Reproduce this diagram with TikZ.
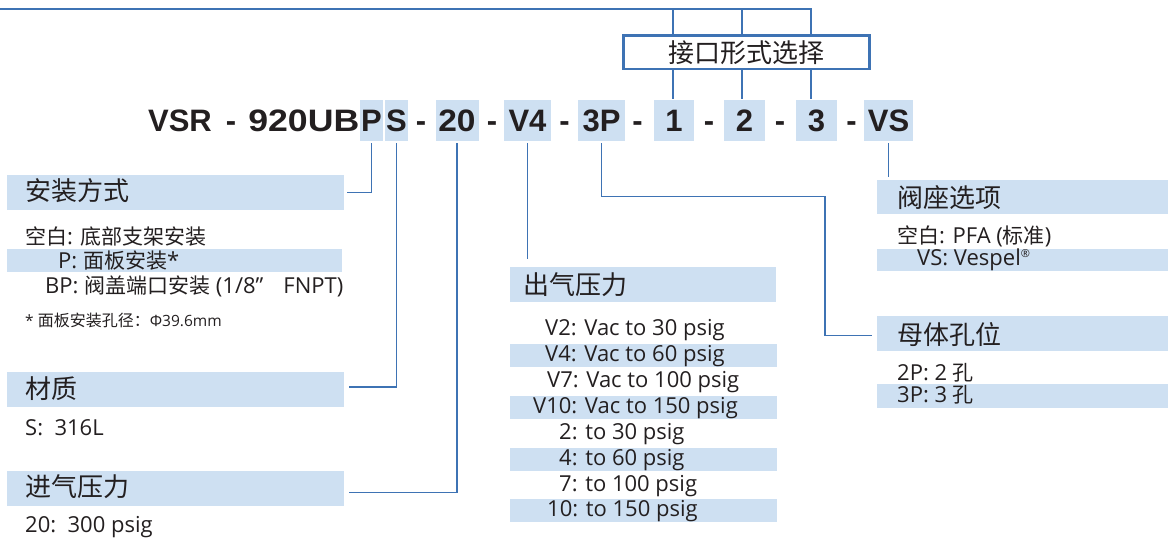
\documentclass[tikz,border=0pt]{standalone}
\usepackage{fontspec}
\setmainfont{Open Sans}
\newfontfamily\cjkf{Noto Sans CJK SC}
\newfontfamily\codef{Liberation Sans}
\definecolor{hl}{HTML}{CEE0F2}
\definecolor{ln}{HTML}{3E73B4}
\definecolor{tx}{HTML}{231F20}
\newcommand\zh[1]{{\cjkf\fontsize{21}{24}\selectfont #1}}
\newcommand\zhs[1]{{\cjkf\fontsize{16}{19}\selectfont #1}}
\begin{document}
\begin{tikzpicture}[x=1pt,y=-1pt,
 band/.style={fill=hl,draw=none,inner sep=0pt,outer sep=0pt,anchor=north west},
 hdr/.style={anchor=base west,inner sep=0pt,text=tx,font=\cjkf\fontsize{26}{30}\selectfont},
 body/.style={anchor=base west,inner sep=0pt,text=tx,font=\fontsize{22}{26}\selectfont},
 cbox/.style={fill=hl,inner sep=0pt,outer sep=0pt,minimum height=40.7pt,text=tx,font=\codef\bfseries\fontsize{31}{34}\selectfont,text height=22.2pt,text depth=0pt},
 ctxt/.style={inner sep=0pt,text=tx,font=\codef\bfseries\fontsize{31}{34}\selectfont,text height=22.2pt,text depth=0pt},
 conn/.style={draw=ln,line width=1.4pt},
]
\useasboundingbox (0,0) rectangle (1168,538);

% code line
\node[ctxt] (vsr) at (180,120.4) {VSR};
\node[ctxt] (d0) at (231,120.4) {-};
\node[ctxt,anchor=east] (num) at (359.5,120.4) {\scalebox{1.15}[1]{920UB}};
\node[cbox,minimum width=23pt] (cP) at (371.5,120.4) {P};
\node[cbox,minimum width=23pt] (cS) at (396.5,120.4) {S};
\node[ctxt] (d1) at (421,120.4) {-};
\node[cbox,minimum width=43pt] (c20) at (457,120.4) {\scalebox{1.08}[1]{20}};
\node[ctxt] (d2) at (492,120.4) {-};
\node[cbox,minimum width=47pt] (cV4) at (527.5,120.4) {V4};
\node[ctxt] (d3) at (564.5,120.4) {-};
\node[cbox,minimum width=47pt] (c3P) at (601.5,120.4) {3P};
\node[ctxt] (d4) at (637.5,120.4) {-};
\node[cbox,minimum width=40.5pt] (c1) at (674,120.4) {1};
\node[ctxt] (d5) at (709,120.4) {-};
\node[cbox,minimum width=41pt] (c2) at (744.5,120.4) {2};
\node[ctxt] (d6) at (780,120.4) {-};
\node[cbox,minimum width=41pt] (c3) at (816.5,120.4) {3};
\node[ctxt] (d7) at (851.5,120.4) {-};
\node[cbox,minimum width=49pt] (cVS) at (888.5,120.4) {VS};

% port selection box
\node[draw=ln,line width=2.6pt,inner sep=0pt,minimum width=246.4pt,minimum height=33.4pt,text=tx,font=\cjkf\fontsize{26}{30}\selectfont] (port) at (746.5,52.3) {接口形式选择};
\coordinate (t0) at (0,9);
\coordinate (t1) at (673,9);
\coordinate (t2) at (742,9);
\coordinate (t3) at (811,9);
\draw[conn,line width=1.6pt] (t0) -- (t3) -- (t3 |- port.north);
\draw[conn] (t1) -- (t1 |- port.north);
\draw[conn] (t2) -- (t2 |- port.north);
\draw[conn] (t1 |- port.south) -- ([yshift=1.5pt]t1 |- c1.north);
\draw[conn] (t2 |- port.south) -- ([yshift=1.5pt]t2 |- c2.north);
\draw[conn] (t3 |- port.south) -- ([yshift=1.5pt]t3 |- c3.north);

% headers
\node[band,minimum width=337pt,minimum height=35pt] (h1) at (7,175) {};
\node[hdr] (h1t) at (25,200) {安装方式};
\node[band,minimum width=337pt,minimum height=35pt] (h2) at (7,372) {};
\node[hdr] (h2t) at (25,398) {材质};
\node[band,minimum width=337pt,minimum height=35pt] (h3) at (7,471) {};
\node[hdr] (h3t) at (25,496.5) {进气压力};
\node[band,minimum width=266pt,minimum height=35pt] (h4) at (510,267) {};
\node[hdr] (h4t) at (523,294.5) {出气压力};
\node[band,minimum width=291pt,minimum height=34pt] (h5) at (877,180) {};
\node[hdr] (h5t) at (897,207.5) {阀座选项};
\node[band,minimum width=291pt,minimum height=35pt] (h6) at (877,316) {};
\node[hdr] (h6t) at (897,344.5) {母体孔位};

% connectors
\draw[conn] ([yshift=-2.5pt]cP.south) |- ([xshift=3pt]h1.east);
\draw[conn] ([yshift=-2.5pt]cS.south) |- ([xshift=5pt,yshift=2.5pt]h2.east);
\draw[conn] ([yshift=-2.5pt]c20.south) |- ([xshift=5pt,yshift=-4pt]h3.east);
\draw[conn] ([yshift=-2.5pt]cV4.south) -- ([yshift=8pt]cV4.south |- h4.north);
\coordinate (j1) at (825,196.7);
\draw[conn] ([yshift=-2.5pt]c3P.south) |- (j1) |- ([xshift=-5pt,yshift=-2pt]h6.west);
\draw[conn] ([yshift=-2.5pt]cVS.south) -- ([yshift=3pt]cVS.south |- h5.north);

% mounting
\node[body] (a1) at (25,244) {\zh{空白}: \zh{底部支架安装}};
\node[band,minimum width=335pt,minimum height=23pt] (a2b) at (7,249) {};
\node[body] (a2) at (58,268) {P: \zh{面板安装}*};
\node[body] (a3) at (45,293) {BP: \zh{阀盖端口安装} (1/8”\hspace{20pt}FNPT)};
\node[body,font=\fontsize{15.5}{18}\selectfont] (a4) at (25,326.5) {* \zhs{面板安装孔径：}Φ39.6mm};
% material / inlet
\node[body] (m1) at (25,435.7) {S:\ \ 316L};
\node[body] (p1) at (25,532) {20:\ \ 300 psig};

% outlet pressure
\node[band,minimum width=267pt,minimum height=23pt] (ob1) at (510,344) {};
\node[band,minimum width=267pt,minimum height=23pt] (ob2) at (510,396) {};
\node[band,minimum width=267pt,minimum height=23pt] (ob3) at (510,448) {};
\node[band,minimum width=267pt,minimum height=23pt] (ob4) at (510,499) {};
\node[body] (o1) at (545,335.7) {V2: Vac to 30 psig};
\node[body] (o2) at (545,361.5) {V4: Vac to 60 psig};
\node[body] (o3) at (547,387.5) {V7: Vac to 100 psig};
\node[body] (o4) at (533,413.5) {V10: Vac to 150 psig};
\node[body] (o5) at (559,439.5) {2: to 30 psig};
\node[body] (o6) at (559,465.5) {4: to 60 psig};
\node[body] (o7) at (559,491) {7: to 100 psig};
\node[body] (o8) at (547,516.5) {10: to 150 psig};

% seat / ports
\node[body] (s1) at (897,243) {\zh{空白}: PFA (\zh{标准})};
\node[band,minimum width=291pt,minimum height=22pt] (s2b) at (877,249) {};
\node[body] (s2) at (917,265) {VS: Vespel\raisebox{0.6ex}{\fontsize{11}{12}\selectfont ®}};
\node[body] (k1) at (897,380) {2P: 2 \zh{孔}};
\node[band,minimum width=291pt,minimum height=24pt] (k2b) at (877,384) {};
\node[body] (k2) at (897,402) {3P: 3 \zh{孔}};
\end{tikzpicture}
\end{document}
